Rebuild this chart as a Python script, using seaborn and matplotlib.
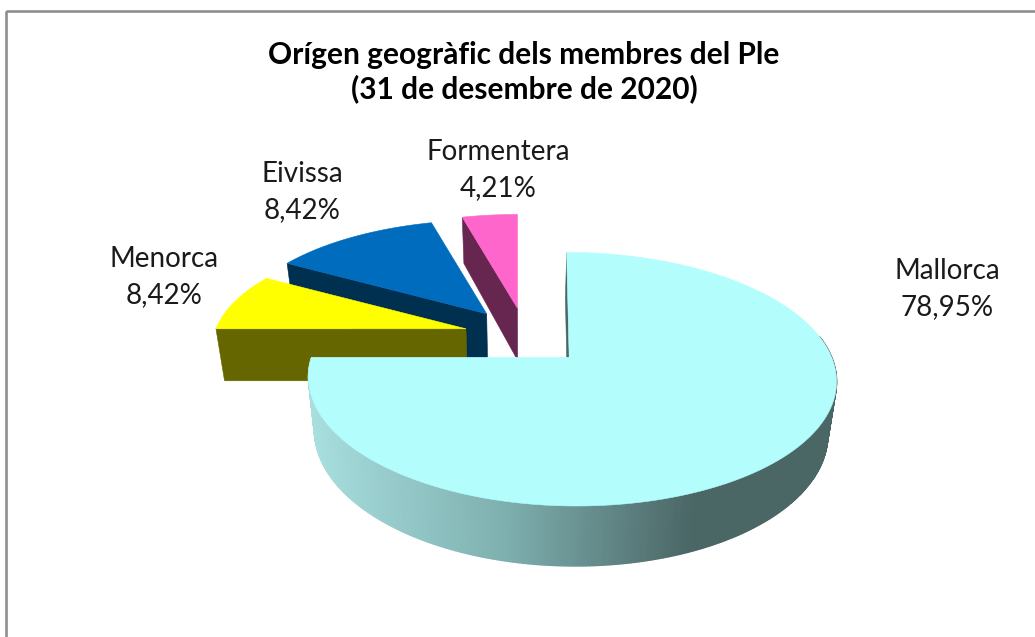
import numpy as np
import seaborn as sns
from matplotlib import pyplot as plt

sns.set_theme(style='white')
plt.rcParams['font.family'] = ['Lato', 'DejaVu Sans']

title = 'Orígen geogràfic dels membres del Ple\n(31 de desembre de 2020)'
regions = ['Mallorca', 'Menorca', 'Eivissa', 'Formentera']
labels = ['78,95%', '8,42%', '8,42%', '4,21%']
# Share of the circle each slice takes as drawn in the picture, clockwise from north.
drawn_shares = [75.0, 8.3, 12.55, 4.15]
top_colors = ['#b4fdfd', '#ffff00', '#006cbd', '#ff66cc']
wall_colors = ['#4a6665', '#666600', '#003050', '#66264f']

# Pie layout, in pixels of the 1035x637 picture.
center = (522, 336)
explode_px = (58, 28)
explode = [1.15, 1, 1, 1]
nudge_x = [0, 0, 0, 3]
nudge_y = [-1.5, 0, 0, 0]
radius_x = [260, 250, 250, 250]
radius_y = [123, 110, 110, 110]
lean = [5, 0, 0, 0]
perspective = 0.173
thickness = 52
shrink = 0.972
label_pos = [(947, 289), (164, 277), (302, 192), (498, 170)]


def project(theta, i, apex):
    u, v = np.sin(theta), np.cos(theta)
    w = 1 + perspective * v
    x = apex[0] + radius_x[i] * u / w + lean[i] * (0.5 - v)
    return x, apex[1] - radius_y[i] * v / w, w


def extrude(x, y, w):
    return center[0] + (x - center[0]) * shrink, y + thickness / w ** 0.75


fig = plt.figure(figsize=(10.35, 6.37), dpi=100)
ax = fig.add_axes([0, 0, 1, 1])
ax.set_xlim(0, 1035)
ax.set_ylim(637, 0)
ax.axis('off')

# Chart frame, runs off the right and bottom of the picture.
ax.add_patch(plt.Rectangle((6, 11), 1200, 800, fill=False, edgecolor='#8e8e8e', linewidth=1.9))

edges = np.radians(np.cumsum([0] + drawn_shares) * 3.6)
rim_palette = sns.blend_palette(['#a8dede', '#7fb0b0', '#4a6665'], 240)

# Back slices first, Mallorca goes on top of everything.
for i in [3, 2, 1, 0]:
    start, end = edges[i], edges[i + 1]
    mid = (start + end) / 2
    apex = (center[0] + explode[i] * explode_px[0] * np.sin(mid) + nudge_x[i],
            center[1] - explode[i] * explode_px[1] * np.cos(mid) + nudge_y[i])

    # Front rim, shaded left to right.
    rim = np.radians(np.linspace(80, 270, 360))
    rim = rim[(rim >= start) & (rim <= end)]
    x, y, w = project(rim, i, apex)
    bx, by = extrude(x, y, w)
    for k in range(len(rim) - 1):
        shade = int(np.clip((x[k] - 310) / 385, 0, 1) * 239)
        ax.fill([x[k], x[k + 1], bx[k + 1], bx[k]], [y[k], y[k + 1], by[k + 1], by[k]],
                color=rim_palette[shade], linewidth=1.0)

    # Radial cut face on the left hand edge of the slice.
    ox, oy, ow = project(start, i, apex)
    ox2, oy2 = extrude(ox, oy, ow)
    ax2, ay2 = extrude(apex[0], apex[1], 1)
    ax.fill([ox, apex[0], ax2, ox2], [oy, apex[1], ay2, oy2], color=wall_colors[i], linewidth=0.4)

    # Top face.
    arc = np.linspace(start, end, 200)
    x, y, _ = project(arc, i, apex)
    ax.fill(np.r_[apex[0], x], np.r_[apex[1], y], color=top_colors[i], linewidth=0.4)

ax.text(524, 72, title, ha='center', va='center', fontsize=21.5, fontweight='bold',
        color='black', linespacing=1.25)
for region, label, pos in zip(regions, labels, label_pos):
    ax.text(pos[0], pos[1], region + '\n' + label, ha='center', va='center',
            fontsize=20, color='#1a1a1a', linespacing=1.45)

fig.savefig('out.png', dpi=100)
